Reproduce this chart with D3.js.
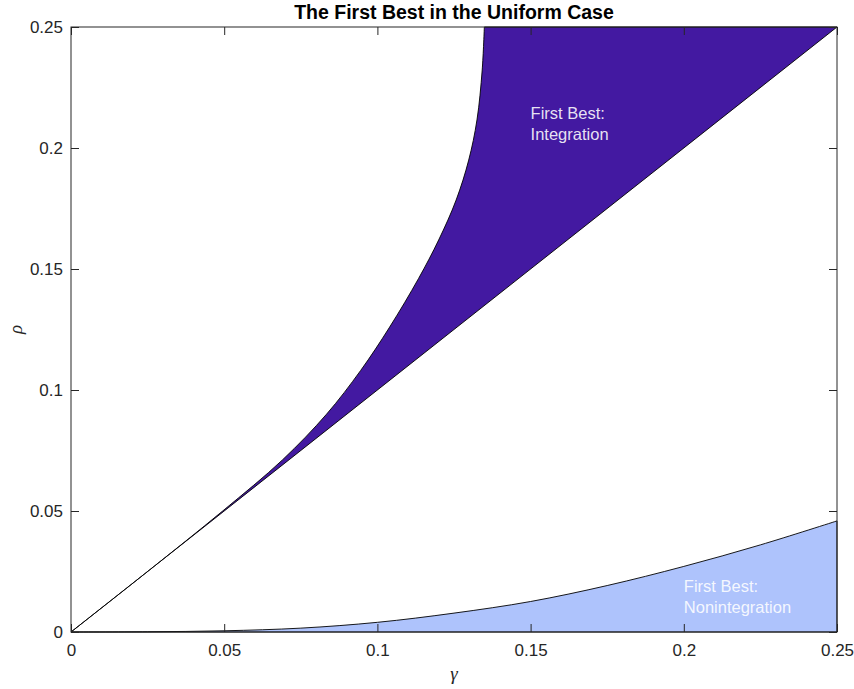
<!DOCTYPE html>
<html>
<head>
<meta charset="utf-8">
<script src="https://cdn.jsdelivr.net/npm/d3@7"></script>
<style>
  html, body { margin: 0; padding: 0; background: #fff; }
  svg { display: block; font-family: "Liberation Sans", Arial, Helvetica, sans-serif; }
  .axis text { fill: #262626; font-size: 17px; }
  .axis line { stroke: #262626; }
  .axis path { display: none; }
</style>
</head>
<body>
<div id="chart"></div>
<script>
// Tick values and labels (both axes share the same range)
const xTicks = [0, 0.05, 0.1, 0.15, 0.2, 0.25];
const xTickLabels = ["0", "0.05", "0.1", "0.15", "0.2", "0.25"];
const yTicks = [0, 0.05, 0.1, 0.15, 0.2, 0.25];
const yTickLabels = ["0", "0.05", "0.1", "0.15", "0.2", "0.25"];

// Upper boundary of the integration region
const upperGamma = [0, 0.025, 0.0495, 0.069, 0.0834, 0.0945, 0.1040, 0.1134, 0.1200, 0.1257, 0.1298, 0.1325, 0.1342, 0.1349];
const upperRho   = [0, 0.025, 0.05, 0.0711, 0.09, 0.108, 0.126, 0.146, 0.162, 0.1785, 0.195, 0.2116, 0.2322, 0.25];

// The 45 degree line rho = gamma
const diagGamma = [0, 0.25];
const diagRho   = [0, 0.25];

// Upper boundary of the nonintegration region
const lowGamma = [0, 0.025, 0.05, 0.075, 0.1, 0.125, 0.15, 0.175, 0.2, 0.225, 0.25];
const lowRho   = [0, 0.0001, 0.0005, 0.0016, 0.0040, 0.0078, 0.0126, 0.0192, 0.0271, 0.0360, 0.0459];

// Region labels
const labels = [
  { lines: ["First Best:", "Integration"], gamma: 0.15, rho: 0.212 },
  { lines: ["First Best:", "Nonintegration"], gamma: 0.2, rho: 0.0166 }
];

const W = 854, H = 689;
const margin = { top: 27, right: 17, bottom: 57, left: 71 };

const svg = d3.select("#chart").append("svg")
  .attr("width", W).attr("height", H);

const x = d3.scaleLinear().domain([0, 0.25]).range([margin.left, W - margin.right]);
const y = d3.scaleLinear().domain([0, 0.25]).range([H - margin.bottom, margin.top]);

const curve = d3.line()
  .x(d => x(d[0]))
  .y(d => y(d[1]))
  .curve(d3.curveCatmullRom.alpha(0.5));

const upperPts = d3.zip(upperGamma, upperRho);
const lowPts = d3.zip(lowGamma, lowRho);

// Integration region: curve up to the top, along the top edge, back down the diagonal
const diagEnd = [diagGamma[1], diagRho[1]];
const integD = curve(upperPts) +
  `L${x(diagEnd[0])},${y(diagEnd[1])}L${x(diagGamma[0])},${y(diagRho[0])}Z`;

svg.append("path")
  .attr("d", integD)
  .attr("fill", "#4319a1")
  .attr("stroke", "#000")
  .attr("stroke-width", 0.9)
  .attr("stroke-linejoin", "round");

// Nonintegration region: below the lower curve
const lowD = curve(lowPts) +
  `L${x(0.25)},${y(0)}L${x(0)},${y(0)}Z`;

svg.append("path")
  .attr("d", lowD)
  .attr("fill", "#aec3fc")
  .attr("stroke", "#000")
  .attr("stroke-width", 0.9);

// Labels
labels.forEach(l => {
  const t = svg.append("text")
    .attr("x", x(l.gamma))
    .attr("y", y(l.rho))
    .attr("fill", "#fff")
    .attr("fill-opacity", 0.88)
    .style("font-size", "16.5px");
  l.lines.forEach((s, i) => {
    t.append("tspan")
      .attr("x", x(l.gamma))
      .attr("dy", i === 0 ? 0 : 21.5)
      .text(s);
  });
});

// Axes, ticks pointing inward on all four sides
const tick = 8;
svg.append("g").attr("class", "axis")
  .attr("transform", `translate(0,${y(0)})`)
  .call(d3.axisBottom(x).tickValues(xTicks).tickSize(-tick).tickPadding(12)
    .tickFormat((d, i) => xTickLabels[i]));

svg.append("g").attr("class", "axis")
  .attr("transform", `translate(0,${y(0.25)})`)
  .call(d3.axisTop(x).tickValues(xTicks).tickSize(-tick).tickFormat(""));

svg.append("g").attr("class", "axis")
  .attr("transform", `translate(${x(0)},0)`)
  .call(d3.axisLeft(y).tickValues(yTicks).tickSize(-tick).tickPadding(8)
    .tickFormat((d, i) => yTickLabels[i]));

svg.append("g").attr("class", "axis")
  .attr("transform", `translate(${x(0.25)},0)`)
  .call(d3.axisRight(y).tickValues(yTicks).tickSize(-tick).tickFormat(""));

// Box
svg.append("rect")
  .attr("x", x(0)).attr("y", y(0.25))
  .attr("width", x(0.25) - x(0))
  .attr("height", y(0) - y(0.25))
  .attr("fill", "none")
  .attr("stroke", "#262626")
  .attr("stroke-width", 1);

// Title and axis labels
svg.append("text")
  .attr("x", (x(0) + x(0.25)) / 2)
  .attr("y", 19)
  .attr("text-anchor", "middle")
  .style("font-size", "19.5px")
  .style("font-weight", "bold")
  .attr("fill", "#000")
  .text("The First Best in the Uniform Case");

svg.append("text")
  .attr("x", (x(0) + x(0.25)) / 2)
  .attr("y", 680)
  .attr("text-anchor", "middle")
  .style("font-family", "'Liberation Serif', 'DejaVu Serif', serif")
  .style("font-style", "italic")
  .style("font-size", "19px")
  .attr("fill", "#262626")
  .text("γ");

svg.append("text")
  .attr("transform", `translate(22,${(y(0) + y(0.25)) / 2}) rotate(-90)`)
  .attr("text-anchor", "middle")
  .style("font-family", "'Liberation Serif', 'DejaVu Serif', serif")
  .style("font-style", "italic")
  .style("font-size", "19px")
  .attr("fill", "#262626")
  .text("ρ");
</script>
</body>
</html>
